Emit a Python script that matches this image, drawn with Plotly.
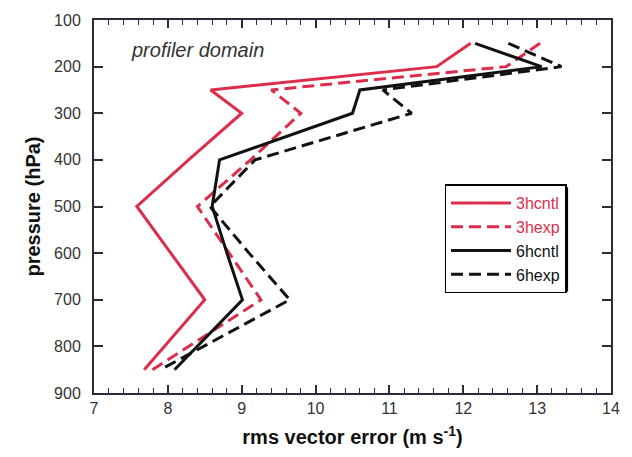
import plotly.graph_objects as go

pressure = [150, 200, 250, 300, 400, 500, 600, 700, 850]
cntl3 = [12.1, 11.64, 8.58, 9.0, 8.28, 7.58, 8.04, 8.5, 7.68]
exp3 = [13.04, 12.58, 9.4, 9.8, 9.12, 8.4, 8.83, 9.26, 7.79]
cntl6 = [12.16, 13.06, 10.6, 10.5, 8.7, 8.6, 8.8, 9.01, 8.09]
exp6 = [12.61, 13.33, 10.91, 11.3, 9.18, 8.57, 9.1, 9.65, 7.9]

series_names = ["3hcntl", "3hexp", "6hcntl", "6hexp"]
RED = "#dc2d4a"
BLK = "#111111"

fig = go.Figure()
specs = [
    (cntl3, series_names[0], RED, "solid"),
    (exp3, series_names[1], RED, "12px,6px"),
    (cntl6, series_names[2], BLK, "solid"),
    (exp6, series_names[3], BLK, "12px,6px"),
]
for vals, name, col, dash in specs:
    fig.add_trace(go.Scatter(
        x=vals, y=pressure, mode="lines",
        name=f"<span style='color:{col}'>{name}</span>",
        line=dict(color=col, width=3, dash=dash),
    ))

axis_col = "#2b2b3a"
fig.update_layout(
    width=632, height=457,
    margin=dict(l=94, r=20, t=19, b=59),
    paper_bgcolor="white", plot_bgcolor="white",
    font=dict(family="Liberation Sans, Arial", color="#333333", size=16),
    showlegend=True,
    legend=dict(
        x=0.678, y=0.559, xanchor="left", yanchor="top",
        bgcolor="white", bordercolor="black", borderwidth=1.5,
        font=dict(size=16, color="#222"),
        tracegroupgap=0, itemwidth=60,
    ),
    xaxis=dict(
        range=[7, 14], dtick=1, tick0=7,
        ticks="inside", ticklen=8, tickwidth=1.5, tickcolor=axis_col,
        minor=dict(dtick=0.2, ticks="inside", ticklen=5, tickwidth=1.2, tickcolor=axis_col),
        showline=True, linecolor=axis_col, linewidth=2, mirror="ticks",
        showgrid=False, zeroline=False,
        tickfont=dict(size=16, color="#333"),
        title=dict(text="<b>rms vector error (m s<sup>-1</sup>)</b>", font=dict(size=20, color="#111"), standoff=14),
    ),
    yaxis=dict(
        range=[900, 100], dtick=100, tick0=100,
        ticks="inside", ticklen=9, tickwidth=1.5, tickcolor=axis_col,
        showline=True, linecolor=axis_col, linewidth=2, mirror="ticks",
        showgrid=False, zeroline=False,
        tickfont=dict(size=16, color="#333"),
        ticklabelstandoff=8,
        title=dict(text="<b>pressure (hPa)</b>", font=dict(size=20, color="#111"), standoff=8),
    ),
    annotations=[dict(
        text="<i>profiler domain</i>", x=0.068, y=0.92, xref="paper", yref="paper",
        xanchor="left", yanchor="middle", showarrow=False,
        font=dict(size=20, color="#333"),
    )],
    shapes=[dict(
        type="rect", xref="paper", yref="paper",
        x0=0.6834, x1=0.917, y0=0.272, y1=0.5515,
        fillcolor="black", line=dict(width=0), layer="above",
    )],
)

fig.write_html("out.html")
